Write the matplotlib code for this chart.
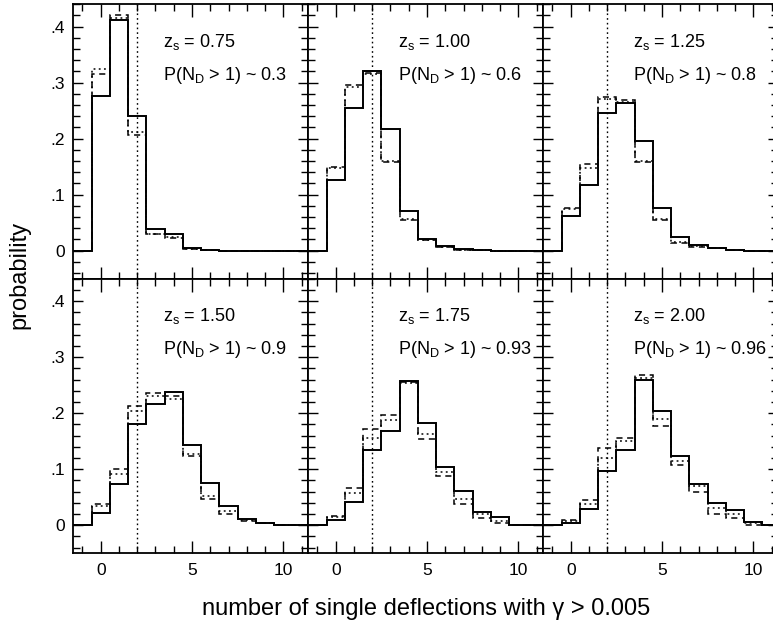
import numpy as np
import matplotlib
matplotlib.use('Agg')
import matplotlib.pyplot as plt
from matplotlib.ticker import MultipleLocator, FixedLocator, FuncFormatter

plt.rcParams['font.family'] = ['Liberation Sans', 'DejaVu Sans']
plt.rcParams['mathtext.fontset'] = 'custom'
plt.rcParams['mathtext.rm'] = 'Liberation Sans'
plt.rcParams['mathtext.it'] = 'Liberation Sans'

# source redshift and fraction with more than one deflector, per panel
z_src = ['0.75', '1.00', '1.25', '1.50', '1.75', '2.00']
p_multi = ['0.3', '0.6', '0.8', '0.9', '0.93', '0.96']

# three histograms per panel (solid, dashed, dotted), bins n = 0..10
solid = [
    [0.276, 0.412, 0.240, 0.038, 0.029, 0.004, 0.001, 0, 0, 0, 0],
    [0.127, 0.254, 0.320, 0.218, 0.071, 0.021, 0.008, 0.003, 0.001, 0, 0],
    [0.062, 0.117, 0.245, 0.264, 0.196, 0.077, 0.024, 0.010, 0.005, 0.001, 0],
    [0.022, 0.074, 0.180, 0.217, 0.238, 0.143, 0.076, 0.034, 0.011, 0.004, 0.001],
    [0.009, 0.041, 0.135, 0.168, 0.258, 0.182, 0.104, 0.061, 0.023, 0.014, 0],
    [0.004, 0.028, 0.096, 0.134, 0.260, 0.204, 0.124, 0.074, 0.040, 0.027, 0.006],
]
dashed = [
    [0.315, 0.420, 0.207, 0.030, 0.023, 0.003, 0.001, 0, 0, 0, 0],
    [0.150, 0.296, 0.318, 0.158, 0.055, 0.019, 0.006, 0.002, 0.001, 0, 0],
    [0.077, 0.154, 0.275, 0.269, 0.159, 0.054, 0.014, 0.007, 0.004, 0.001, 0],
    [0.037, 0.101, 0.213, 0.236, 0.230, 0.124, 0.046, 0.020, 0.007, 0.003, 0.001],
    [0.017, 0.067, 0.171, 0.196, 0.256, 0.154, 0.088, 0.038, 0.012, 0.004, 0],
    [0.009, 0.045, 0.137, 0.156, 0.268, 0.177, 0.108, 0.060, 0.020, 0.012, 0.001],
]
dotted = [
    [0.324, 0.416, 0.212, 0.029, 0.025, 0.003, 0.001, 0, 0, 0, 0],
    [0.148, 0.293, 0.316, 0.160, 0.057, 0.020, 0.007, 0.002, 0.001, 0, 0],
    [0.075, 0.147, 0.270, 0.265, 0.161, 0.057, 0.016, 0.008, 0.004, 0.001, 0],
    [0.035, 0.092, 0.204, 0.230, 0.226, 0.127, 0.052, 0.025, 0.009, 0.003, 0.001],
    [0.015, 0.057, 0.156, 0.188, 0.254, 0.163, 0.095, 0.046, 0.019, 0.007, 0],
    [0.007, 0.037, 0.119, 0.150, 0.263, 0.189, 0.114, 0.070, 0.031, 0.020, 0.003],
]

n_cut = 2  # vertical dotted marker


def padded(vals):
    # add empty bins at -1 and 11 so steps run frame to frame
    return np.concatenate([[0.0], vals, [0.0]])


edges = np.arange(-1.5, 12.0, 1.0)

fig, axes = plt.subplots(2, 3, figsize=(7.73, 6.22), dpi=100, sharex=True, sharey=True)
# right-hand panel runs slightly past the image edge, as in the original crop
fig.subplots_adjust(left=73.3 / 773, right=778.3 / 773, top=1 - 4.3 / 622,
                    bottom=1 - 553.1 / 622, wspace=0, hspace=0)

for i, ax in enumerate(axes.flat):
    ax.stairs(padded(dotted[i]), edges, baseline=None, color='black', lw=1.1, ls=(0, (1.2, 2.2)))
    ax.stairs(padded(dashed[i]), edges, baseline=None, color='black', lw=1.1, ls=(0, (4, 3)))
    ax.stairs(padded(solid[i]), edges, baseline=None, color='black', lw=1.4)
    ax.axvline(n_cut, color='black', lw=1.0, ls=(0, (1.2, 2.2)))

    ax.text(3.4, 0.364, r'$\mathregular{z_s}$ = ' + z_src[i], fontsize=13, va='baseline')
    ax.text(3.4, 0.305, r'P(N$\mathregular{_D}$ > 1) ~ ' + p_multi[i], fontsize=13, va='baseline')

    ax.set_xlim(-1.5, 11.37)
    ax.set_ylim(-0.05, 0.44)
    ax.xaxis.set_major_locator(FixedLocator([0, 5, 10]))
    ax.xaxis.set_minor_locator(MultipleLocator(1))
    ax.yaxis.set_major_locator(MultipleLocator(0.1))
    ax.yaxis.set_minor_locator(MultipleLocator(0.02))
    ax.yaxis.set_major_formatter(FuncFormatter(lambda v, p: '0' if abs(v) < 1e-9 else ('%.1f' % v)[1:]))
    ax.tick_params(which='both', direction='in', top=True, right=True, labelsize=12.5, width=1.0)
    ax.tick_params(axis='x', which='major', length=9, pad=7)
    ax.tick_params(axis='x', which='minor', length=5)
    ax.tick_params(axis='y', which='major', length=7, pad=6)
    ax.tick_params(axis='y', which='minor', length=5)
    for s in ax.spines.values():
        s.set_linewidth(1.3)

fig.text(0.0246, 1 - 275 / 622, 'probability', rotation=90, fontsize=17, ha='center', va='center')
fig.text(426 / 773, 1 - 615 / 622, 'number of single deflections with \u03b3 > 0.005',
         fontsize=17, ha='center', va='baseline')

plt.savefig('out.png', dpi=100)
